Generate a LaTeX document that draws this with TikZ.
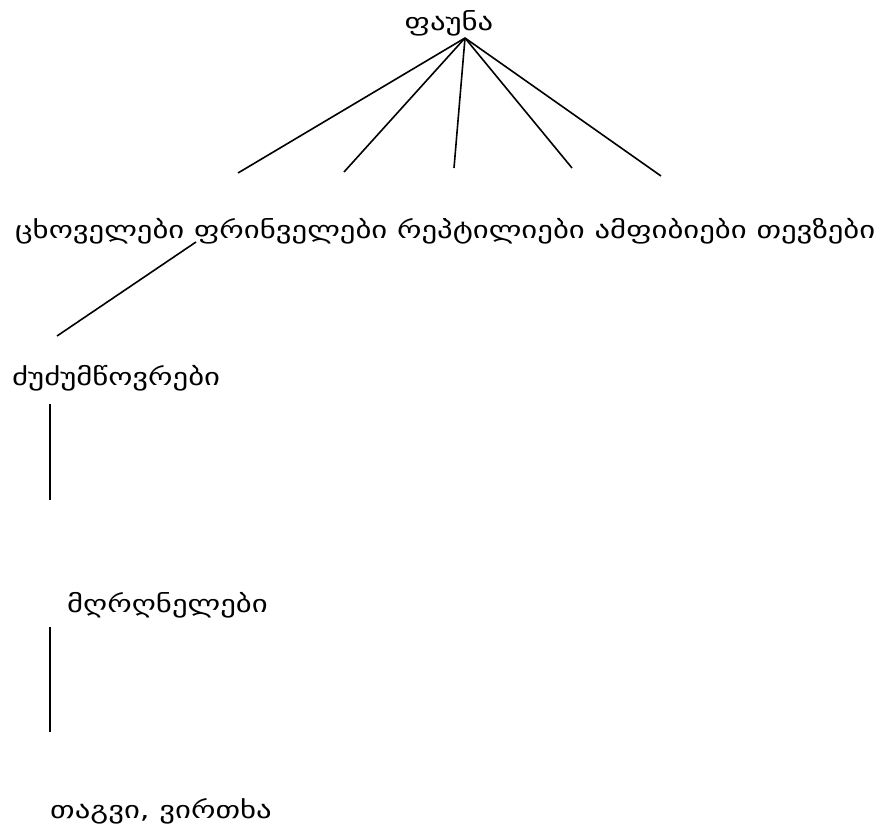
\documentclass[tikz,border=0pt]{standalone}
\usepackage{fontspec}
\newfontfamily\geofont[FakeStretch=1.28]{DejaVu Sans}
\begin{document}
\begin{tikzpicture}[x=1pt,y=-1pt,
  lbl/.style={inner sep=0pt,font=\geofont\fontsize{24}{28}\selectfont},
  link/.style={line width=1.6pt,black}]
\useasboundingbox (0,0) rectangle (886,829);
% labels
\node[lbl,anchor=base] (fauna) at (449,31) {ფაუნა};
\node[lbl,anchor=base west] (row) at (15,238) {ცხოველები ფრინველები რეპტილიები ამფიბიები თევზები};
\node[lbl,anchor=base west] (mamm) at (12,385) {ძუძუმწოვრები};
\node[lbl,anchor=base west] (rod) at (67,612) {მღრღნელები};
\node[lbl,anchor=base west] (mice) at (50,818) {თაგვი, ვირთხა};
% branch points
\coordinate (top) at (465,38);
\coordinate (e1) at (238,173);
\coordinate (e2) at (344,172);
\coordinate (e3) at (454,168);
\coordinate (e4) at (572,168);
\coordinate (e5) at (661,176);
\coordinate (m0) at (196,242);
\coordinate (m1) at (57,336);
\coordinate (r0) at (50,404);
\coordinate (r1) at (50,500);
\coordinate (t0) at (50,627);
\coordinate (t1) at (50,732);
% connectors
\foreach \e in {e1,e2,e3,e4,e5} \draw[link] (top) -- (\e);
\draw[link] (m0) -- (m1);
\draw[link] (r0) -- (r1);
\draw[link] (t0) -- (t1);
\end{tikzpicture}
\end{document}
